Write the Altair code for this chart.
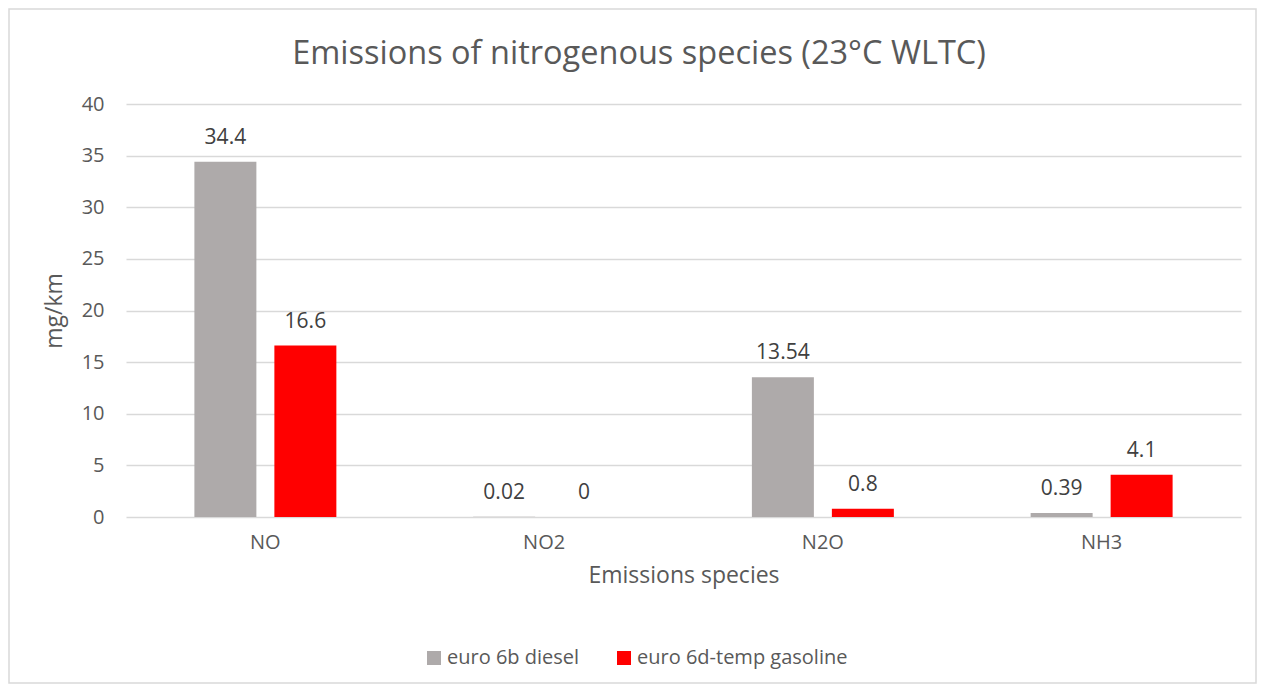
import altair as alt
import pandas as pd

species = ["NO", "NO2", "N2O", "NH3"]
series = ["euro 6b diesel", "euro 6d-temp gasoline"]
diesel = [34.4, 0.02, 13.54, 0.39]
gasoline = [16.6, 0.0, 0.8, 4.1]
diesel_lbl = ["34.4", "0.02", "13.54", "0.39"]
gasoline_lbl = ["16.6", "0", "0.8", "4.1"]
colors = ["#aeaaaa", "#ff0000"]
title_text = "Emissions of nitrogenous species (23°C WLTC)"

rows = []
for i, s in enumerate(species):
    rows.append({"species": s, "series": series[0], "value": diesel[i], "label": diesel_lbl[i]})
    rows.append({"species": s, "series": series[1], "value": gasoline[i], "label": gasoline_lbl[i]})
df = pd.DataFrame(rows)

W, H = 1115, 413
FONT = "Open Sans"

x = alt.X("species:N", sort=species, title="Emissions species",
          scale=alt.Scale(paddingInner=0, paddingOuter=0),
          axis=alt.Axis(labelAngle=0, labelFontSize=20, labelColor="#595959",
                        titleFontSize=23, titleColor="#595959", titleFontWeight="normal",
                        labelPadding=15, titlePadding=12, tickSize=0, domain=False, grid=False))
xo = alt.XOffset("series:N", sort=series,
                 scale=alt.Scale(paddingInner=0.225, paddingOuter=0.855))
y = alt.Y("value:Q", title="mg/km",
          scale=alt.Scale(domain=[0, 40], nice=False),
          axis=alt.Axis(values=list(range(0, 41, 5)), labelFontSize=20, labelColor="#595959",
                        titleFontSize=23, titleColor="#595959", titleFontWeight="normal",
                        labelPadding=22, titlePadding=15, tickSize=0, domain=False,
                        gridColor="#d9d9d9", gridWidth=1.3))
color = alt.Color("series:N", sort=series,
                  scale=alt.Scale(domain=series, range=colors),
                  legend=alt.Legend(title=None, orient="none", direction="horizontal",
                                    legendX=298, legendY=544, labelFontSize=20,
                                    labelColor="#595959", symbolType="square",
                                    symbolSize=196, symbolStrokeWidth=0, labelLimit=400,
                                    columnPadding=34, labelOffset=3))

base = alt.Chart(df)
bars = base.mark_bar().encode(x=x, xOffset=xo, y=y, color=color)
labels = base.mark_text(dy=-24, fontSize=21, color="#404040", font=FONT).encode(
    x=x, xOffset=xo, y=y, text="label:N")

frame_df = pd.DataFrame({"t": [title_text]})
frame = alt.Chart(frame_df).mark_rect(fill=None, stroke="#d9d9d9", strokeWidth=1.5).encode(
    x=alt.value(-117), x2=alt.value(W + 15), y=alt.value(-95), y2=alt.value(H + 166))
title = alt.Chart(frame_df).mark_text(fontSize=32.5, color="#595959", font=FONT,
                                      baseline="alphabetic", align="center").encode(
    x=alt.value(513), y=alt.value(-40), text="t:N")

chart = alt.layer(frame, bars, labels, title).properties(
    width=W, height=H,
    padding={"left": 118, "top": 96, "right": 17, "bottom": 168},
    autosize="none",
).configure(font=FONT).configure_view(stroke=None).configure_axis(
    labelFont=FONT, titleFont=FONT).configure_legend(labelFont=FONT)

chart.save("out.html", embed_options={"renderer": "svg", "actions": False})
